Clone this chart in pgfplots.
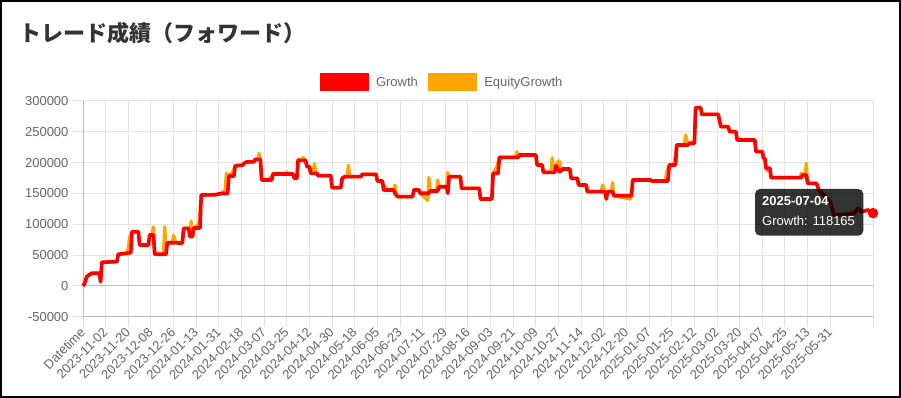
\documentclass[border=0pt]{standalone}
\usepackage{fontspec}
\setmainfont{Liberation Sans}
\newfontfamily\jpfont{Noto Sans CJK JP}
\usepackage{pgfplots}
\pgfplotsset{compat=1.18}
\definecolor{cGrowth}{HTML}{FF0000}
\definecolor{cEquity}{HTML}{FFA500}
\definecolor{cTick}{HTML}{666666}
\definecolor{cGrid}{HTML}{E3E3E3}
\definecolor{cAxis}{HTML}{BDBDBD}
\definecolor{cTitle}{HTML}{333333}
\begin{document}
\begin{tikzpicture}[x=1pt,y=1pt]
\useasboundingbox (0,0) rectangle (901,398);
\fill[white] (0,0) rectangle (901,398);
\node[anchor=west, inner sep=0pt, text=cTitle, font=\jpfont\bfseries\fontsize{22}{22}\selectfont] at (19,365) {トレード成績（フォワード）};
\begin{axis}[
  at={(83pt,81.2pt)}, anchor=south west,
  scale only axis, width=790pt, height=215.8pt,
  xmin=0, xmax=628, ymin=-50000, ymax=300000,
  scaled x ticks=false, scaled y ticks=false,
  xtick={0,18,36,54,72,90,108,126,144,162,180,198,216,234,252,270,288,306,324,342,360,378,396,414,432,450,468,486,504,522,540,558,576,594,628},
  xticklabels={Datetime,2023-11-02,2023-11-20,2023-12-08,2023-12-26,2024-01-13,2024-01-31,2024-02-18,2024-03-07,2024-03-25,2024-04-12,2024-04-30,2024-05-18,2024-06-05,2024-06-23,2024-07-11,2024-07-29,2024-08-16,2024-09-03,2024-09-21,2024-10-09,2024-10-27,2024-11-14,2024-12-02,2024-12-20,2025-01-07,2025-01-25,2025-02-12,2025-03-02,2025-03-20,2025-04-07,2025-04-25,2025-05-13,2025-05-31,{}},
  ytick={-50000,0,50000,100000,150000,200000,250000,300000},
  yticklabels={-50000,0,50000,100000,150000,200000,250000,300000},
  grid=major, grid style={cGrid, line width=1pt},
  tick align=outside, major tick length=10pt, tick style={cGrid, line width=1pt},
  axis x line*=bottom, axis y line*=left, axis line style={cAxis, line width=1pt},
  tick label style={font=\fontsize{13}{13}\selectfont, text=cTick},
  xticklabel style={rotate=45, anchor=east, yshift=-2pt, xshift=1pt},
  yticklabel style={xshift=-1pt},
  legend style={draw=none, fill=none, at={(axis description cs:0.4544,1)}, anchor=south, yshift=8pt,
    font=\fontsize{13}{13}\selectfont, text=cTick, /tikz/every even column/.append style={column sep=8pt}},
  legend columns=-1,
  clip=false,
]
\addlegendimage{legend image code/.code={\fill[cGrowth] (0pt,-8.5pt) rectangle (48pt,8.5pt); \path (54pt,0pt);}}
\addlegendentry{Growth}
\addlegendimage{legend image code/.code={\fill[cEquity] (0pt,-8.5pt) rectangle (48pt,8.5pt); \path (54pt,0pt);}}
\addlegendentry{EquityGrowth}
\draw[cAxis, line width=1pt] (axis cs:0,0) -- (axis cs:628,0);
% EquityGrowth
\addplot[forget plot, cEquity, line width=3.3pt, line join=round] coordinates {
(0,0) (1,5000) (2,12000) (3,16000) (5,19000) (7,20600) (13,20600) (14,7000) (15,38400) (27,39500) (28,51400) (35,53500) (36,62000) (37,78000) (39,88000) (44,88000) (45,66500) (52,66500) (53,82700) (55,82700) (56,96000) (57,51400) (64,51400) (65,96000) (66,51400) (67,70200) (71,70200) (72,82000) (74,70200) (79,69500) (80,93500) (84,93500) (85,80000) (86,105000) (87,80000) (88,94000) (92,100000) (93,120000) (94,147500) (105,148000) (110,150000) (113,155000) (114,183000) (116,178400) (119,185000) (121,195000) (127,196000) (128,199000) (130,201000) (136,201500) (137,205400) (139,205400) (140,215100) (141,205400) (142,171900) (148,171900) (149,177000) (150,171900) (151,181600) (161,181600) (162,185000) (163,181600) (167,181600) (168,174600) (170,174600) (171,206000) (173,203800) (175,208000) (177,203800) (178,193500) (180,193500) (181,182700) (183,182700) (184,198000) (185,182700) (186,182700) (187,178900) (197,178900) (198,159400) (205,159400) (206,174600) (208,177300) (210,177300) (211,196000) (212,177300) (221,177300) (222,181100) (233,181100) (234,170300) (238,170300) (239,155700) (240,162700) (241,155700) (247,155700) (248,163800) (249,150000) (250,144800) (262,144800) (263,155700) (267,155700) (268,150300) (274,139000) (275,176000) (276,154000) (281,154000) (282,172000) (283,161000) (289,161000) (290,183700) (291,177300) (300,177300) (301,158400) (315,158400) (316,141100) (325,141100) (326,182700) (329,193500) (331,208600) (344,208600) (345,217800) (346,208600) (347,212400) (360,212400) (361,196200) (365,196200) (366,184300) (372,184300) (373,208000) (374,190000) (375,184300) (376,195100) (378,203000) (379,201000) (380,185400) (381,189700) (387,189700) (388,174600) (393,174600) (394,163800) (400,163800) (401,152900) (412,152900) (413,163800) (415,152900) (416,141100) (417,152900) (420,152900) (421,167600) (422,146400) (435,141000) (436,146400) (437,171900) (451,171900) (452,170300) (463,170300) (464,185000) (466,196200) (469,196200) (470,200000) (472,228600) (478,228600) (479,244900) (481,228600) (482,231400) (486,231400) (487,289200) (491,289200) (492,278400) (505,278400) (507,258400) (513,258400) (514,250300) (519,250300) (520,236800) (534,236800) (535,217800) (540,217800) (541,207000) (542,207000) (543,190900) (544,186500) (546,190900) (547,175700) (570,175700) (571,183000) (572,180000) (574,180000) (575,198900) (576,166500) (583,166500) (585,155700) (590,145000) (594,136700) (597,115100) (605,116000) (613,117900) (616,126000) (619,120500) (624,123200) (628,118165)
};
% Growth
\addplot[forget plot, cGrowth, line width=3.6pt, line join=round] coordinates {
(0,0) (1,3000) (2,8000) (3,15000) (5,18000) (7,20600) (13,20600) (14,7000) (15,38400) (27,39500) (28,51400) (36,53500) (38,54000) (39,88000) (44,88000) (45,66500) (52,66500) (53,82700) (56,82700) (57,51400) (66,51400) (67,70200) (73,70000) (79,69500) (80,93500) (84,93500) (85,80000) (87,80000) (88,94000) (93,94000) (94,147500) (105,148000) (110,150000) (115,150000) (116,178400) (120,178400) (121,195000) (127,196000) (128,199000) (130,201000) (136,201500) (137,205400) (141,205400) (142,171900) (150,171900) (151,181600) (167,181600) (168,174600) (170,174600) (171,203800) (177,203800) (178,193500) (180,193500) (181,182700) (186,182700) (187,178900) (197,178900) (198,159400) (205,159400) (206,174600) (208,177300) (221,177300) (222,181100) (233,181100) (234,170300) (238,170300) (239,155700) (247,155700) (248,150000) (250,144800) (262,144800) (263,155700) (267,155700) (268,150300) (275,150300) (276,154000) (282,154000) (283,161000) (289,161000) (290,150300) (291,177300) (300,177300) (301,158400) (315,158400) (316,141100) (325,141100) (326,182700) (330,182700) (331,208600) (346,208600) (347,212400) (360,212400) (361,196200) (365,196200) (366,184300) (375,184300) (376,195100) (379,185400) (381,189700) (387,189700) (388,174600) (393,174600) (394,163800) (400,163800) (401,152900) (415,152900) (416,141100) (417,152900) (421,152900) (422,146400) (436,146400) (437,171900) (451,171900) (452,170300) (465,170300) (466,196200) (471,196200) (472,228600) (481,228600) (482,231400) (486,231400) (487,289200) (491,289200) (492,278400) (505,278400) (507,258400) (513,258400) (514,250300) (519,250300) (520,236800) (534,236800) (535,217800) (540,217800) (541,207000) (542,207000) (543,190900) (546,190900) (547,175700) (571,175700) (572,180000) (575,180000) (576,166500) (583,166500) (585,155700) (590,145000) (594,136700) (597,115100) (605,116000) (613,117900) (616,126000) (619,120500) (624,123200) (628,118165)
};
\addplot[forget plot, only marks, mark=*, mark size=5pt, mark options={fill=cGrowth, draw=cGrowth}] coordinates {(628,118165)};
\end{axis}
\fill[black, fill opacity=0.8, rounded corners=5pt] (755,162.3) rectangle (863.3,209);
\node[anchor=base west, inner sep=0pt, text=white, font=\bfseries\fontsize{13}{13}\selectfont] at (762,192.3) {2025-07-04};
\node[anchor=base west, inner sep=0pt, text=white, font=\fontsize{13}{13}\selectfont] at (762,172.3) {Growth: 118165};
\draw[line width=2pt, black] (1,1) rectangle (900,397);
\end{tikzpicture}
\end{document}
